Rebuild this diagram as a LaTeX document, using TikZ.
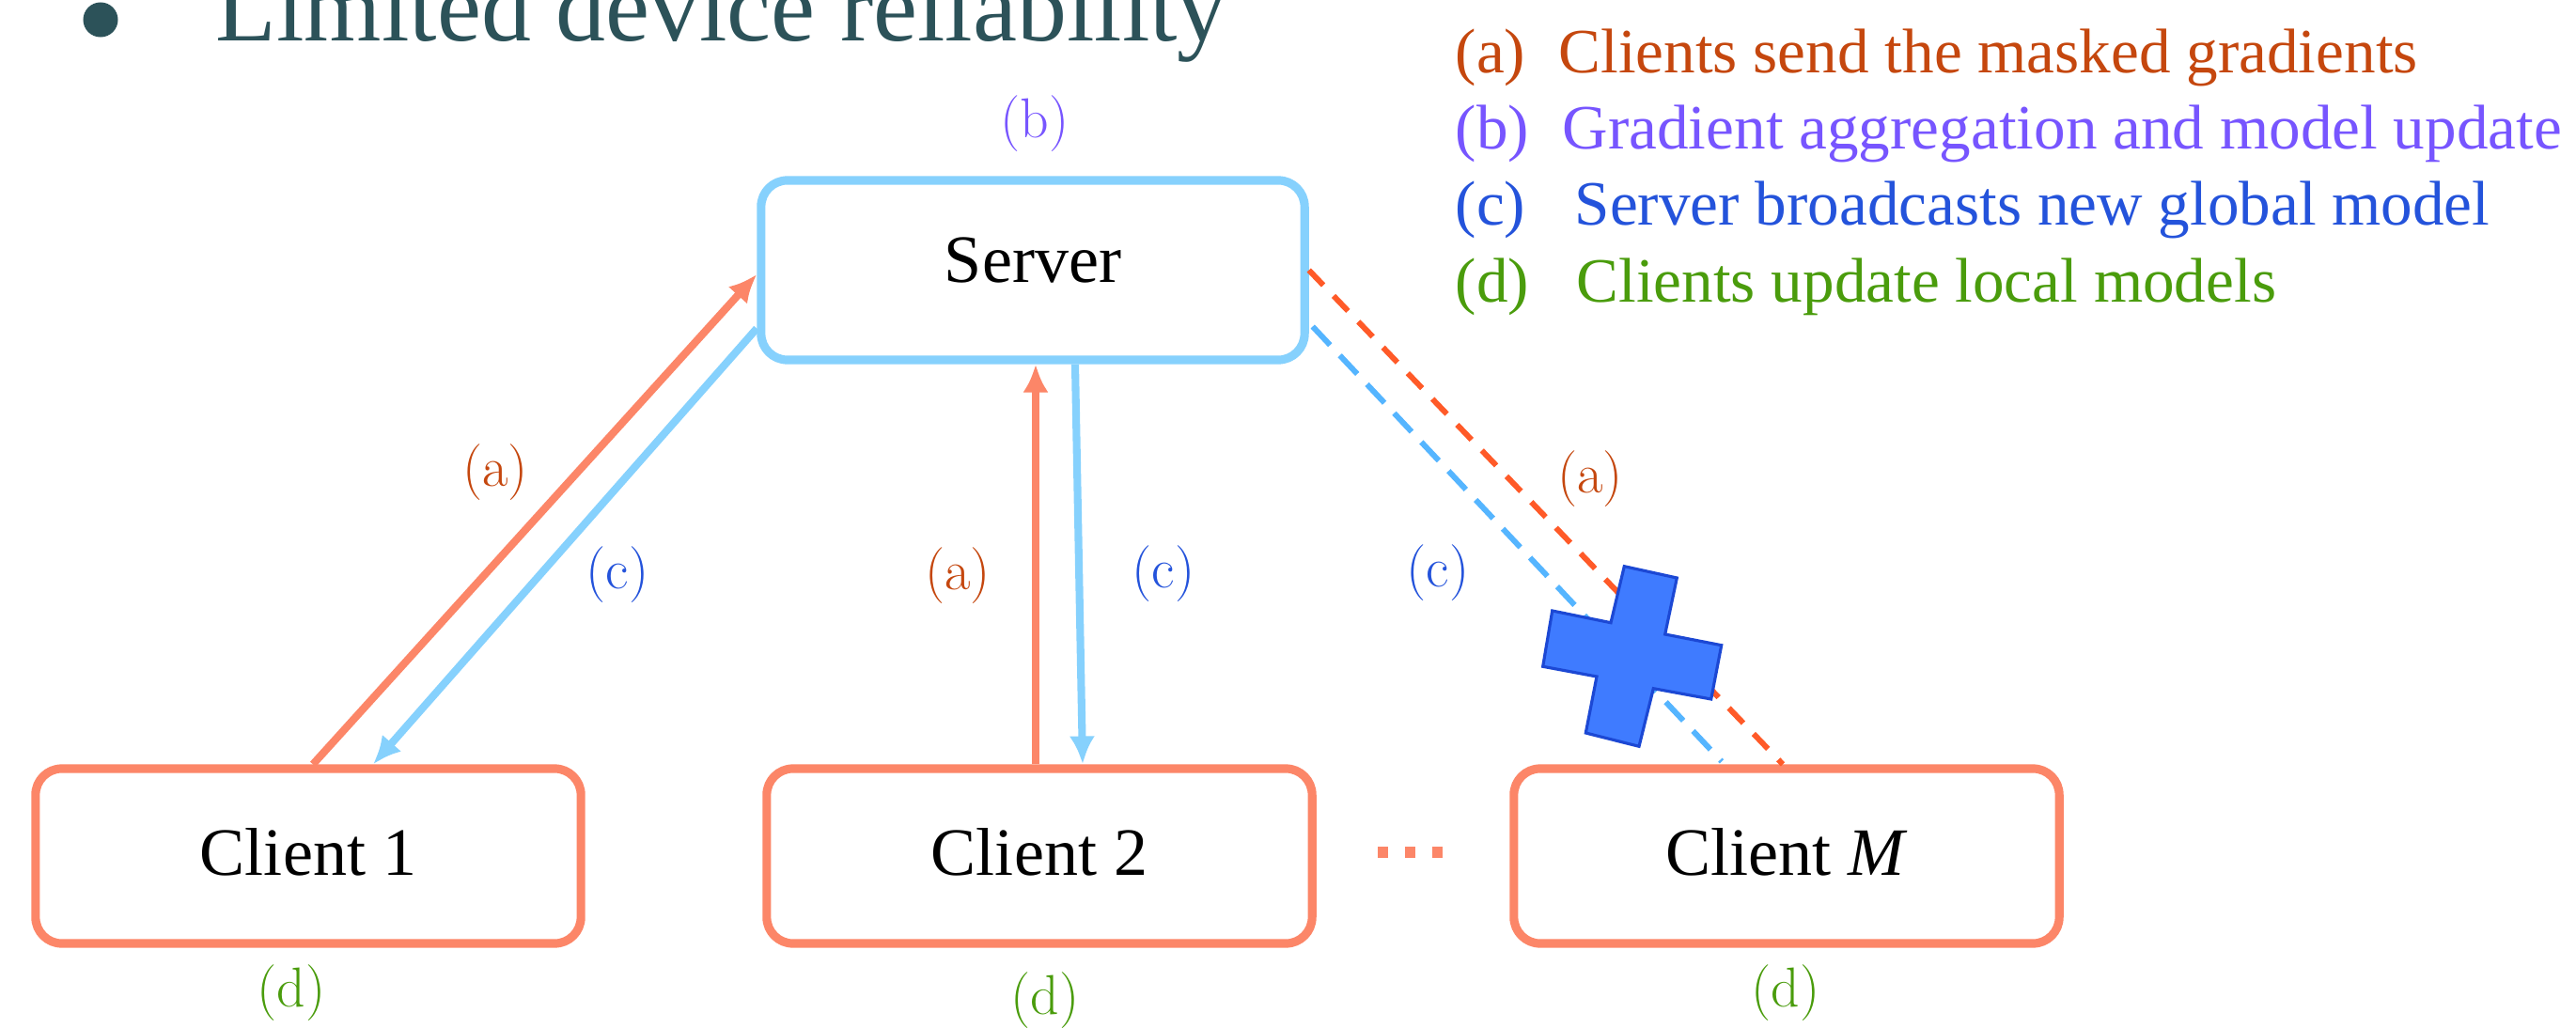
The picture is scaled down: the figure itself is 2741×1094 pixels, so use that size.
\documentclass[tikz,border=0pt]{standalone}
\usepackage{fontspec}
\newfontfamily\tnr{Liberation Serif}
\usetikzlibrary{arrows.meta,calc}

\definecolor{titlecol}{HTML}{2C5259}
\definecolor{cliorange}{HTML}{FC8668}
\definecolor{srvblue}{HTML}{86D1FD}
\definecolor{lostorange}{HTML}{FF5A28}
\definecolor{lostblue}{HTML}{55B5FF}
\definecolor{cola}{HTML}{C5470E}
\definecolor{colb}{HTML}{7755FF}
\definecolor{colc}{HTML}{2453DB}
\definecolor{cold}{HTML}{4A9C0C}
\definecolor{crossfill}{HTML}{3F7BFF}
\definecolor{crossedge}{HTML}{1C48D4}

\begin{document}
\begin{tikzpicture}[x=0.01cm,y=-0.01cm,
  box/.style={draw, rounded corners=0.28cm, line width=2.6pt, fill=white,
    inner sep=0pt, text=black, font=\tnr\fontsize{20.5}{24}\selectfont},
  srvbox/.style={box, draw=srvblue, minimum width=5.78cm, minimum height=1.91cm,
    text height=13.7pt, text depth=6.3pt},
  clibox/.style={box, draw=cliorange, minimum width=5.8cm, minimum height=1.86cm,
    text height=14.8pt, text depth=2.9pt},
  sendarr/.style={draw=cliorange, line width=2.3pt, -{Latex[length=8.5pt,width=7.7pt]}},
  bcastarr/.style={draw=srvblue, line width=2.3pt, -{Latex[length=8.5pt,width=7.7pt]}},
  lostsend/.style={draw=lostorange, line width=1.7pt, dash pattern=on 6.3pt off 4.5pt},
  lostbcast/.style={draw=lostblue, line width=1.7pt, dash pattern=on 7.7pt off 4.3pt},
  steplbl/.style={inner sep=0pt, font=\fontsize{17}{20}\selectfont},
  legkey/.style={anchor=base west, inner sep=0pt, font=\tnr\fontsize{19.1}{23}\selectfont},
]
\useasboundingbox[fill=white] (0,0) rectangle (2741,1094);

% heading
\node[circle, fill=titlecol, minimum size=0.37cm, inner sep=0pt] (bullet) at (107,21) {};
\node[anchor=base west, inner sep=0pt, text=titlecol,
  font=\tnr\fontsize{30.1}{36}\selectfont] (title) at (229,44) {Limited device reliability};

% legend
\node[legkey, text=cola] (ka) at (1548,78) {(a)};
\node[legkey, text=cola] (ta) at (1658,78) {Clients send the masked gradients};
\node[legkey, text=colb] (kb) at (1548,159) {(b)};
\node[legkey, text=colb] (tb) at (1662,159) {Gradient aggregation and model update};
\node[legkey, text=colc] (kc) at (1548,240) {(c)};
\node[legkey, text=colc] (tc) at (1675,240) {Server broadcasts new global model};
\node[legkey, text=cold] (kd) at (1548,321) {(d)};
\node[legkey, text=cold] (td) at (1677,321) {Clients update local models};

% server and clients
\node[srvbox] (srv) at (1099,287.5) {Server};
\node[clibox] (c1) at (328,911) {Client 1};
\node[clibox] (c2) at (1106,911) {Client 2};
\node[clibox] (cM) at (1901,911) {Client \textit{M}};

% dots between client 2 and client M
\fill[cliorange] (1466,901) rectangle (1477,913);
\fill[cliorange] (1495,901) rectangle (1506,913);
\fill[cliorange] (1524,901) rectangle (1535,913);

% client 1 exchange
\draw[sendarr] ($(c1.north)+(5,0)$) -- ($(srv.west)+(0,4.5)$);
\draw[bcastarr] ($(srv.west)+(0,62)$) -- ($(c1.north)+(69,0)$);

% client 2 exchange
\draw[sendarr] ($(c2.north)+(-4,0)$) -- ($(srv.south)+(3,0)$);
\draw[bcastarr] ($(srv.south)+(45,0)$) -- ($(c2.north)+(46,0)$);

% client M: broken links
\draw[lostsend] (srv.east) -- ($(cM.north)+(-4,0)$);
\draw[lostbcast] ($(srv.east)+(4,60)$) -- ($(cM.north)+(-69,-3)$);

% failure mark
\filldraw[fill=crossfill, draw=crossedge, line width=0.9pt, line join=miter]
  (1728.3,602.7) -- (1784.3,615) -- (1771.7,675) -- (1831.7,686.7) -- (1820.7,744)
  -- (1759.3,732.7) -- (1744,794.3) -- (1687.3,780) -- (1699,720) -- (1641.7,709.3)
  -- (1651.7,650) -- (1714,662.7) -- cycle;

% step labels
\node[steplbl, text=colb] (lb) at (1101,132) {(b)};
\node[steplbl, text=cola] (la1) at (527,503) {(a)};
\node[steplbl, text=colc] (lc1) at (657,612) {(c)};
\node[steplbl, text=cola] (la2) at (1019,613) {(a)};
\node[steplbl, text=colc] (lc2) at (1238,611) {(c)};
\node[steplbl, text=cola] (la3) at (1692,510) {(a)};
\node[steplbl, text=colc] (lc3) at (1530,610) {(c)};
\node[steplbl, text=cold] (ld1) at (310,1057) {(d)};
\node[steplbl, text=cold] (ld2) at (1112,1065) {(d)};
\node[steplbl, text=cold] (ld3) at (1900,1057) {(d)};
\end{tikzpicture}
\end{document}
